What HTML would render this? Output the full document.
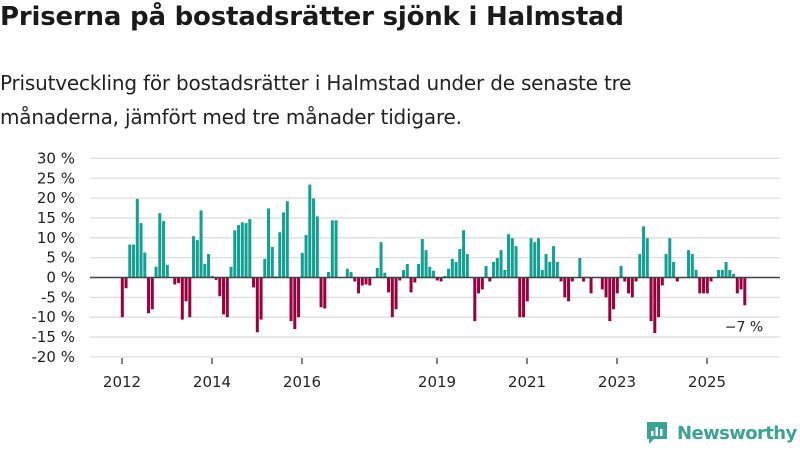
<!DOCTYPE html>
<html><head><meta charset="utf-8"><style>
body{margin:0;width:800px;height:450px;background:#fff;font-family:"Liberation Sans","DejaVu Sans",sans-serif;color:#1a1a1a;overflow:hidden;position:relative}
h1{position:absolute;left:0;top:2px;margin:0;font-size:26px;font-weight:bold;font-family:"DejaVu Sans","Liberation Sans",sans-serif;letter-spacing:-0.2px}
.sub{position:absolute;left:0;top:66px;margin:0;font-size:20px;line-height:34px;font-family:"DejaVu Sans","Liberation Sans",sans-serif;color:#222;letter-spacing:-0.2px}
svg{position:absolute;left:0;top:0}
</style></head><body>
<h1>Priserna på bostadsrätter sjönk i Halmstad</h1>
<p class="sub">Prisutveckling för bostadsrätter i Halmstad under de senaste tre<br>månaderna, jämfört med tre månader tidigare.</p>
<svg id="chart" width="800" height="450"></svg>
<script>
const values=[-10,-2.7,8.3,8.3,19.8,13.7,6.3,-9,-8,2.7,16.2,14.2,3.2,null,-1.75,-1.4,-10.6,-6,-10,10.4,9.4,16.9,3.4,5.9,0.4,-0.6,-4.7,-9.3,-10,2.7,11.9,13.2,13.9,13.7,14.7,-2.5,-13.8,-10.6,4.7,17.4,7.7,0.3,11.4,16.4,19.2,-11,-13,-10,6.2,10.7,23.4,19.9,15.4,-7.5,-7.8,1.4,14.4,14.4,null,null,2.2,1.4,-1,-4,-2,-1.75,-2,null,2.4,8.9,1.2,-3.75,-10,-8,-0.75,1.9,3.4,-3.75,-1.25,3.4,9.7,6.9,2.7,1.7,-0.75,-1,0.4,2.2,4.7,3.9,7.2,11.9,5.9,null,-11,-4,-3,2.9,-1,3.9,4.9,6.9,1.9,10.9,9.9,7.9,-10,-10,-6,9.9,8.9,9.9,1.9,5.9,3.9,7.9,3.9,-1,-5,-6,-1,null,4.9,-1,null,-4,null,null,-3,-5,-11,-8,-4,2.9,-1,-4,-5,-1,5.9,12.9,9.9,-11,-14,-10,-2,5.9,9.9,3.9,-1,null,null,6.9,5.9,1.9,-4,-4,-4,-1,null,1.9,1.9,3.9,1.9,0.9,-4,-3,-7];
const yTicks=[30,25,20,15,10,5,0,-5,-10,-15,-20];
const yearLabels=[2012,2014,2016,2019,2021,2023,2025];
const startYear=2012;
const NS="http://www.w3.org/2000/svg";
const svg=document.getElementById('chart');
const y=v=>277.5-v*3.97;
const xm=i=>122+i*3.75;
const xy=yr=>xm((yr-startYear)*12);
function mk(t,a){const e=document.createElementNS(NS,t);for(const k in a)e.setAttribute(k,a[k]);svg.appendChild(e);return e;}
yTicks.forEach(t=>{
 const g=mk('line',{x1:90,x2:780,y1:y(t),y2:y(t),stroke:'#dedede','stroke-width':1.3});
 
 
 const l=mk('text',{x:75,y:y(t)+5,'text-anchor':'end','font-size':15,fill:'#222','font-family':'"DejaVu Sans","Liberation Sans",sans-serif'});
 l.textContent=(t<0?'-':'')+Math.abs(t)+' %';
 
 
});
values.forEach((v,i)=>{
 if(v===null)return;
 const b=mk('rect',{x:xm(i)-1.2,width:3,y:v>=0?y(v):y(0),height:Math.abs(y(v)-y(0)),fill:v>=0?'#12a092':'#9a0040'});
 
 
});
const z=mk('line',{x1:90,x2:780,y1:y(0),y2:y(0),stroke:'#444','stroke-width':1.6});


yearLabels.forEach(yr=>{
 const t=mk('line',{x1:xy(yr),x2:xy(yr),y1:358,y2:364,stroke:'#555','stroke-width':1.5});
 
 
 const l=mk('text',{x:xy(yr),y:387,'text-anchor':'middle','font-size':15,fill:'#222','font-family':'"DejaVu Sans","Liberation Sans",sans-serif'});
 l.textContent=yr;
 
 
});
const last=values[values.length-1];
const al=mk('text',{x:744,y:y(last)+26,'text-anchor':'middle','font-size':14,fill:'#222','font-family':'"DejaVu Sans","Liberation Sans",sans-serif'});
al.textContent='\u2212'+Math.abs(last)+' %';


</script>
<div style="position:absolute;left:645px;top:420px;display:flex;align-items:center">
 <svg width="24" height="26" style="position:static" viewBox="0 0 24 26"><path d="M2 2h20v17H9l-5 5v-5H2z" fill="#3aa394"/><rect x="6" y="11" width="2.5" height="5" fill="#fff"/><rect x="10.5" y="7" width="2.5" height="9" fill="#fff"/><rect x="15" y="9" width="2.5" height="7" fill="#fff"/></svg>
 <span style="margin-left:8px;font-size:18px;font-weight:bold;color:#3aa394;font-family:'DejaVu Sans','Liberation Sans',sans-serif;letter-spacing:-0.6px">Newsworthy</span>
</div>
</body></html>
